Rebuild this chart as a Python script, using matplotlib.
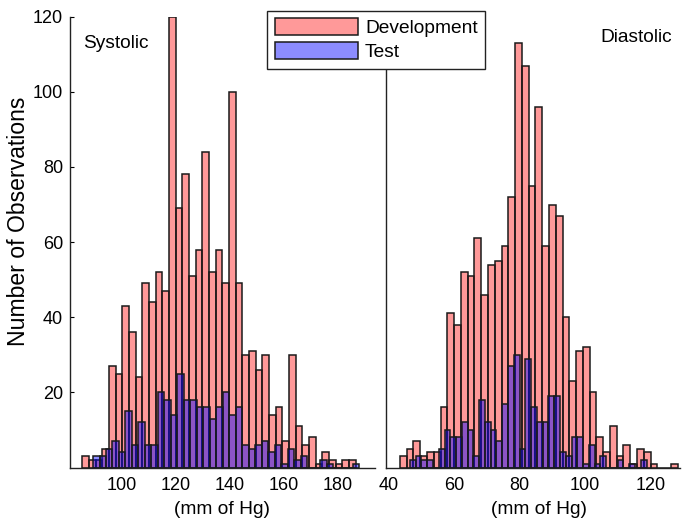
import numpy as np
import matplotlib
matplotlib.use("Agg")
import matplotlib.pyplot as plt
from matplotlib.patches import Patch

plt.rcParams['font.family'] = ['Liberation Sans', 'DejaVu Sans']

# systolic histograms (41 bins each), bin start and width in mm Hg
sys_dev_start, sys_dev_width = 85.6, 2.463
sys_dev = [3, 2, 2, 5, 27, 25, 43, 36, 24, 49, 44, 52, 47, 120, 69, 78, 51, 58, 84, 52,
           58, 49, 100, 49, 30, 31, 26, 30, 14, 16, 7, 30, 11, 6, 8, 1, 4, 2, 1, 2, 2]
sys_test_start, sys_test_width = 89.5, 2.401
sys_test = [3, 3, 5, 7, 4, 15, 6, 12, 6, 6, 20, 18, 14, 25, 18, 18, 16, 16, 13, 16,
            20, 14, 16, 6, 5, 6, 7, 4, 6, 1, 5, 2, 3, 0, 0, 2, 1, 0, 0, 0, 1]

# diastolic histograms
dia_dev_start, dia_dev_width = 43.56, 2.069
dia_dev = [3, 5, 7, 3, 4, 4, 16, 41, 38, 52, 51, 61, 46, 54, 55, 59, 72, 113, 107, 75,
           96, 59, 70, 67, 40, 23, 31, 32, 20, 8, 4, 11, 3, 6, 1, 5, 4, 1, 0, 0, 1]
dia_test_start, dia_test_width = 46.6, 1.763
dia_test = [2, 3, 2, 2, 0, 5, 10, 8, 8, 12, 10, 3, 18, 12, 10, 7, 17, 27, 30, 5,
            29, 16, 12, 12, 19, 19, 4, 3, 8, 8, 1, 6, 1, 3, 0, 0, 2, 0, 1, 0, 2]

sys_ticks = [100, 120, 140, 160, 180]
dia_ticks = [40, 60, 80, 100, 120]
y_ticks = [20, 40, 60, 80, 100, 120]

pink = (1.0, 0.0, 0.0, 0.4)
blue = (0.0, 0.0, 1.0, 0.45)
edge = '#1a1a1a'


def draw_hist(ax, start, width, counts, color):
    counts = np.asarray(counts)
    lefts = start + width * np.arange(len(counts))
    ax.bar(lefts, counts, width=width, align='edge', color=color,
           edgecolor=edge, linewidth=1.1)


W, H = 686, 521
fig = plt.figure(figsize=(W / 100, H / 100), dpi=100)
bottom = (H - 467.5) / H
height = 450.8 / H
ax1 = fig.add_axes([70 / W, bottom, 305 / W, height])
ax2 = fig.add_axes([386 / W, bottom, 294 / W, height])

draw_hist(ax1, sys_dev_start, sys_dev_width, sys_dev, pink)
draw_hist(ax1, sys_test_start, sys_test_width, sys_test, blue)
draw_hist(ax2, dia_dev_start, dia_dev_width, dia_dev, pink)
draw_hist(ax2, dia_test_start, dia_test_width, dia_test, blue)

ax1.set_xlim(81.0, 193.7)
ax2.set_xlim(39.3, 129.1)
for ax in (ax1, ax2):
    ax.set_ylim(0, 120)
    ax.spines['top'].set_visible(False)
    ax.spines['right'].set_visible(False)
    for s in ('left', 'bottom'):
        ax.spines[s].set_linewidth(1.0)
        ax.spines[s].set_color('#222222')
    ax.tick_params(axis='x', length=0, pad=7, labelsize=13)
    ax.set_xlabel('(mm of Hg)', fontsize=13.8, labelpad=3)

ax1.set_xticks(sys_ticks)
ax2.set_xticks(dia_ticks)
ax1.set_yticks(y_ticks)
ax1.tick_params(axis='y', direction='in', length=3, labelsize=13, pad=5)
ax2.set_yticks([])
ax2.xaxis.set_label_coords(0.52, -0.075)
ax1.xaxis.set_label_coords(0.5, -0.075)

ax1.text(0.042, 0.94, 'Systolic', transform=ax1.transAxes, fontsize=13.8,
         ha='left', va='center')
ax2.text(0.973, 0.954, 'Diastolic', transform=ax2.transAxes, fontsize=13.8,
         ha='right', va='center')

fig.text(0.027, 0.576, 'Number of Observations', rotation=90, fontsize=16.6,
         ha='center', va='center')

handles = [Patch(facecolor=pink, edgecolor=edge, linewidth=1.1),
           Patch(facecolor=blue, edgecolor=edge, linewidth=1.1)]
leg = fig.legend(handles, ['Development', 'Test'], loc='upper left',
                 bbox_to_anchor=(267 / W, 1 - 10.7 / H), borderaxespad=0,
                 fontsize=13.8, handlelength=4.35, handleheight=0.94,
                 handletextpad=0.36, labelspacing=0.26, borderpad=0.4,
                 fancybox=False, framealpha=1, edgecolor='#222222')
leg.get_frame().set_linewidth(1.0)

fig.savefig('out.png', dpi=100)
